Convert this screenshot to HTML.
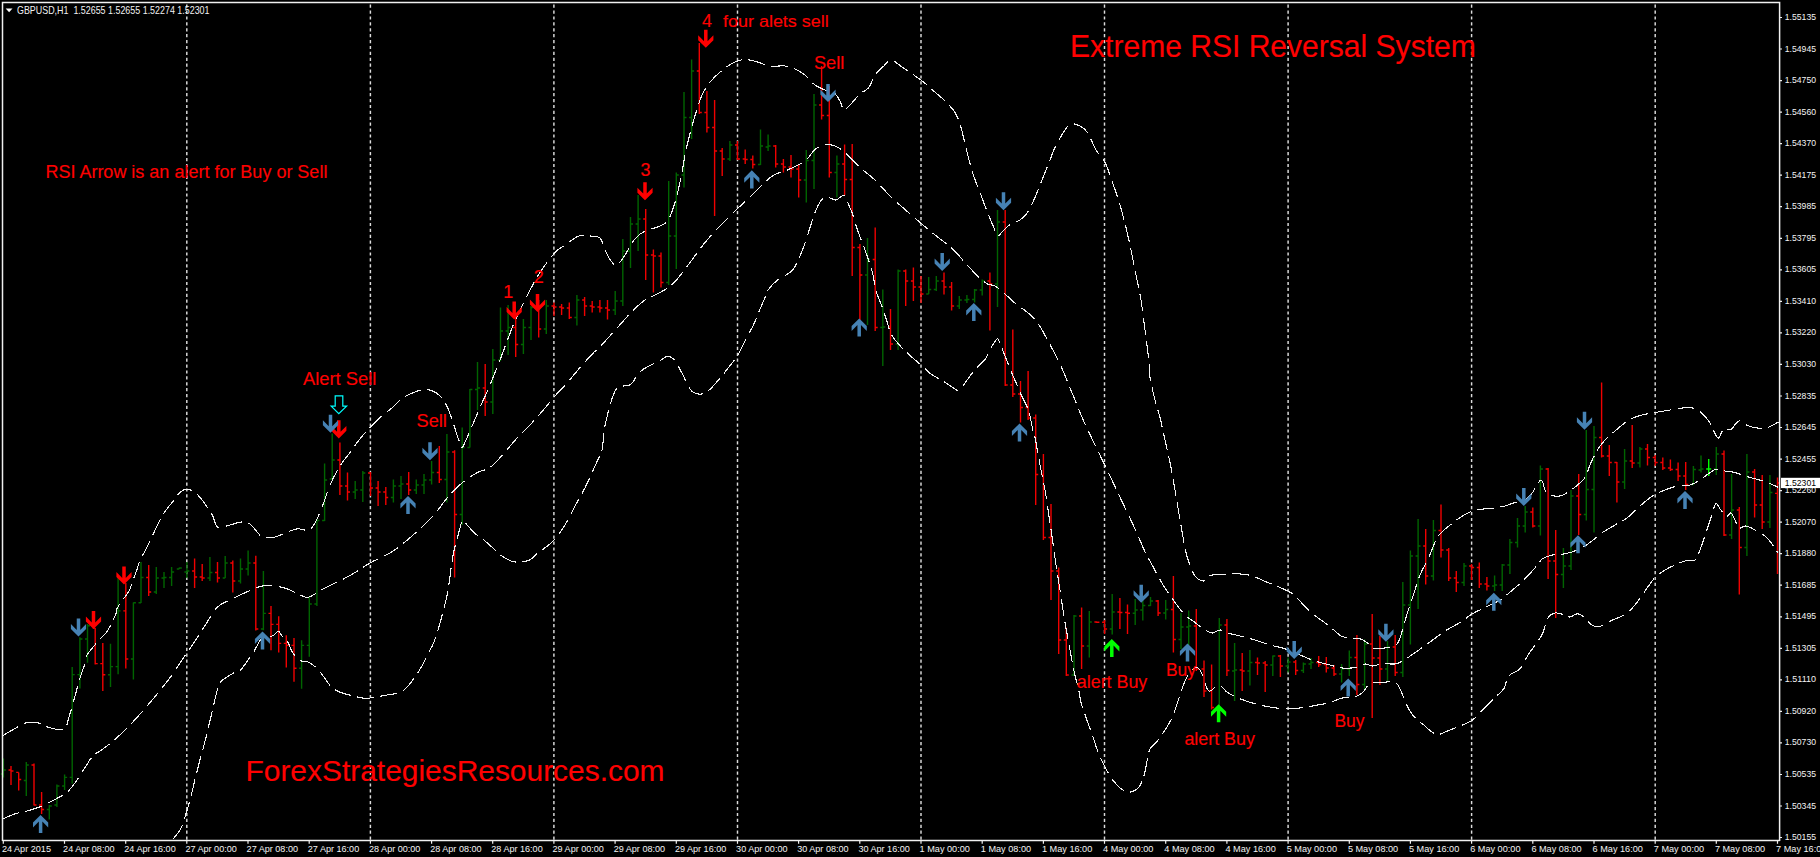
<!DOCTYPE html>
<html><head><meta charset="utf-8"><title>GBPUSD,H1</title>
<style>
html,body{margin:0;padding:0;background:#000;overflow:hidden}
svg{display:block;font-family:"Liberation Sans",sans-serif}
</style></head><body>
<svg width="1820" height="857" viewBox="0 0 1820 857">
<rect width="1820" height="857" fill="#000"/>
<g stroke="#dcdcdc" stroke-width="1.45" stroke-dasharray="3.2 2.7" stroke-dashoffset="4.3" fill="none">
<line x1="186.8" y1="3" x2="186.8" y2="840"/>
<line x1="370.4" y1="3" x2="370.4" y2="840"/>
<line x1="553.9" y1="3" x2="553.9" y2="840"/>
<line x1="737.5" y1="3" x2="737.5" y2="840"/>
<line x1="921.0" y1="3" x2="921.0" y2="840"/>
<line x1="1104.5" y1="3" x2="1104.5" y2="840"/>
<line x1="1288.1" y1="3" x2="1288.1" y2="840"/>
<line x1="1471.6" y1="3" x2="1471.6" y2="840"/>
<line x1="1655.2" y1="3" x2="1655.2" y2="840"/>
</g>
<g stroke-width="1.4" fill="none">
<path stroke="#006400" d="M3.4 758.6V777.4M0.9 774.0H3.4M3.4 770.0H5.9"/>
<path stroke="#f00000" d="M11.0 766.0V785.0M8.5 770.0H11.0M11.0 771.0H13.5"/>
<path stroke="#f00000" d="M18.7 772.4V790.5M16.2 772.4H18.7M18.7 779.5H21.2"/>
<path stroke="#006400" d="M26.3 762.0V796.0M23.8 780.5H26.3M26.3 765.0H28.8"/>
<path stroke="#f00000" d="M34.0 763.6V805.5M31.5 765.0H34.0M34.0 805.0H36.5"/>
<path stroke="#f00000" d="M41.6 792.0V814.0M39.1 805.0H41.6M41.6 809.5H44.1"/>
<path stroke="#006400" d="M49.3 805.0V819.6M46.8 809.5H49.3M49.3 806.0H51.8"/>
<path stroke="#006400" d="M56.9 784.5V807.0M54.4 805.0H56.9M56.9 786.0H59.4"/>
<path stroke="#006400" d="M64.6 774.4V790.0M62.1 786.0H64.6M64.6 777.4H67.1"/>
<path stroke="#006400" d="M72.2 667.0V783.7M69.7 777.4H72.2M72.2 674.6H74.7"/>
<path stroke="#006400" d="M79.9 637.2V688.4M77.4 674.6H79.9M79.9 639.0H82.4"/>
<path stroke="#006400" d="M87.5 624.0V662.8M85.0 639.0H87.5M87.5 625.7H90.0"/>
<path stroke="#f00000" d="M95.2 628.0V664.4M92.7 628.0H95.2M95.2 663.6H97.7"/>
<path stroke="#f00000" d="M102.8 643.0V691.0M100.3 663.6H102.8M102.8 674.8H105.3"/>
<path stroke="#006400" d="M110.5 643.8V687.0M108.0 674.8H110.5M110.5 666.6H113.0"/>
<path stroke="#006400" d="M118.1 577.0V674.3M115.6 666.6H118.1M118.1 610.9H120.6"/>
<path stroke="#f00000" d="M125.8 583.0V668.6M123.3 610.9H125.8M125.8 659.0H128.3"/>
<path stroke="#006400" d="M133.4 602.6V679.6M130.9 659.0H133.4M133.4 602.8H135.9"/>
<path stroke="#006400" d="M141.0 562.0V603.0M138.5 602.8H141.0M141.0 577.5H143.5"/>
<path stroke="#f00000" d="M148.7 565.0V596.0M146.2 577.5H148.7M148.7 592.0H151.2"/>
<path stroke="#006400" d="M156.3 567.0V594.0M153.8 592.0H156.3M156.3 578.0H158.8"/>
<path stroke="#006400" d="M164.0 572.0V588.0M161.5 578.0H164.0M164.0 577.5H166.5"/>
<path stroke="#006400" d="M171.6 567.0V586.0M169.1 577.5H171.6M171.6 572.0H174.1"/>
<path stroke="#006400" d="M179.3 567.5V569.0M176.8 569.0H179.3M179.3 568.0H181.8"/>
<path stroke="#006400" d="M186.9 562.0V578.0M184.4 572.0H186.9M186.9 571.0H189.4"/>
<path stroke="#f00000" d="M194.6 558.5V588.0M192.1 571.0H194.6M194.6 577.0H197.1"/>
<path stroke="#f00000" d="M202.2 564.0V581.0M199.7 577.0H202.2M202.2 578.0H204.7"/>
<path stroke="#006400" d="M209.9 557.0V581.0M207.4 578.0H209.9M209.9 572.5H212.4"/>
<path stroke="#f00000" d="M217.5 562.0V582.5M215.0 572.5H217.5M217.5 578.0H220.0"/>
<path stroke="#006400" d="M225.2 556.0V578.0M222.7 578.0H225.2M225.2 563.0H227.7"/>
<path stroke="#f00000" d="M232.8 560.5V592.5M230.3 563.0H232.8M232.8 581.0H235.3"/>
<path stroke="#006400" d="M240.5 558.5V583.5M238.0 581.0H240.5M240.5 569.0H243.0"/>
<path stroke="#006400" d="M248.1 550.5V575.5M245.6 569.0H248.1M248.1 563.0H250.6"/>
<path stroke="#f00000" d="M255.8 555.7V630.5M253.3 563.0H255.8M255.8 629.0H258.3"/>
<path stroke="#006400" d="M263.4 571.0V630.2M260.9 629.0H263.4M263.4 613.4H265.9"/>
<path stroke="#f00000" d="M271.0 606.0V650.3M268.5 613.4H271.0M271.0 624.4H273.5"/>
<path stroke="#f00000" d="M278.7 616.3V652.6M276.2 624.4H278.7M278.7 643.4H281.2"/>
<path stroke="#f00000" d="M286.3 635.2V667.6M283.8 643.4H286.3M286.3 645.4H288.8"/>
<path stroke="#f00000" d="M294.0 638.0V681.7M291.5 645.4H294.0M294.0 668.3H296.5"/>
<path stroke="#006400" d="M301.6 640.3V688.8M299.1 668.3H301.6M301.6 645.4H304.1"/>
<path stroke="#006400" d="M309.3 597.0V656.7M306.8 645.4H309.3M309.3 604.0H311.8"/>
<path stroke="#006400" d="M316.9 519.0V606.0M314.4 604.0H316.9M316.9 520.5H319.4"/>
<path stroke="#006400" d="M324.6 463.5V521.0M322.1 520.5H324.6M324.6 480.0H327.1"/>
<path stroke="#006400" d="M332.2 433.5V479.0M329.7 479.0H332.2M332.2 460.0H334.7"/>
<path stroke="#f00000" d="M339.9 442.5V495.0M337.4 460.0H339.9M339.9 486.0H342.4"/>
<path stroke="#f00000" d="M347.5 472.5V500.5M345.0 486.0H347.5M347.5 492.0H350.0"/>
<path stroke="#006400" d="M355.2 481.0V499.0M352.7 492.0H355.2M355.2 490.0H357.7"/>
<path stroke="#006400" d="M362.8 471.0V502.0M360.3 490.0H362.8M362.8 473.0H365.3"/>
<path stroke="#f00000" d="M370.5 472.0V496.0M368.0 473.0H370.5M370.5 488.0H373.0"/>
<path stroke="#f00000" d="M378.1 481.0V506.0M375.6 488.0H378.1M378.1 492.0H380.6"/>
<path stroke="#f00000" d="M385.8 487.0V505.0M383.2 492.0H385.8M385.8 497.5H388.2"/>
<path stroke="#006400" d="M393.4 479.5V502.5M390.9 497.5H393.4M393.4 486.0H395.9"/>
<path stroke="#006400" d="M401.0 476.0V499.0M398.5 486.0H401.0M401.0 484.0H403.5"/>
<path stroke="#f00000" d="M408.7 472.0V495.0M406.2 484.0H408.7M408.7 490.0H411.2"/>
<path stroke="#006400" d="M416.3 479.5V494.0M413.8 490.0H416.3M416.3 485.0H418.8"/>
<path stroke="#006400" d="M424.0 474.0V494.0M421.5 485.0H424.0M424.0 480.0H426.5"/>
<path stroke="#006400" d="M431.6 461.0V484.5M429.1 480.0H431.6M431.6 472.5H434.1"/>
<path stroke="#f00000" d="M439.3 446.0V483.0M436.8 472.5H439.3M439.3 479.5H441.8"/>
<path stroke="#006400" d="M446.9 434.0V502.5M444.4 479.5H446.9M446.9 452.0H449.4"/>
<path stroke="#f00000" d="M454.6 450.2V577.6M452.1 452.0H454.6M454.6 514.5H457.1"/>
<path stroke="#006400" d="M462.2 427.5V525.0M459.7 514.5H462.2M462.2 447.5H464.7"/>
<path stroke="#006400" d="M469.9 389.0V447.5M467.4 447.5H469.9M469.9 389.5H472.4"/>
<path stroke="#006400" d="M477.5 362.0V410.0M475.0 389.5H477.5M477.5 388.0H480.0"/>
<path stroke="#f00000" d="M485.2 364.0V416.0M482.7 388.0H485.2M485.2 402.0H487.7"/>
<path stroke="#006400" d="M492.8 349.0V414.0M490.3 402.0H492.8M492.8 360.0H495.3"/>
<path stroke="#006400" d="M500.5 307.5V361.0M498.0 360.0H500.5M500.5 331.0H503.0"/>
<path stroke="#006400" d="M508.1 305.0V355.0M505.6 331.0H508.1M508.1 327.5H510.6"/>
<path stroke="#f00000" d="M515.7 314.0V357.0M513.2 327.5H515.7M515.7 344.5H518.2"/>
<path stroke="#006400" d="M523.4 319.0V354.0M520.9 344.5H523.4M523.4 327.5H525.9"/>
<path stroke="#006400" d="M531.0 306.0V340.0M528.5 327.5H531.0M531.0 307.5H533.5"/>
<path stroke="#f00000" d="M538.7 300.0V337.5M536.2 307.5H538.7M538.7 329.0H541.2"/>
<path stroke="#006400" d="M546.3 300.0V334.0M543.8 329.0H546.3M546.3 306.0H548.8"/>
<path stroke="#f00000" d="M554.0 302.5V316.0M551.5 306.0H554.0M554.0 307.0H556.5"/>
<path stroke="#f00000" d="M561.6 304.0V315.0M559.1 307.0H561.6M561.6 308.0H564.1"/>
<path stroke="#f00000" d="M569.3 302.5V319.0M566.8 308.0H569.3M569.3 317.5H571.8"/>
<path stroke="#006400" d="M576.9 295.0V325.5M574.4 317.5H576.9M576.9 300.0H579.4"/>
<path stroke="#f00000" d="M584.6 297.0V316.0M582.1 300.0H584.6M584.6 306.0H587.1"/>
<path stroke="#f00000" d="M592.2 301.0V312.5M589.7 306.0H592.2M592.2 307.0H594.7"/>
<path stroke="#f00000" d="M599.9 300.0V312.5M597.4 307.0H599.9M599.9 308.0H602.4"/>
<path stroke="#f00000" d="M607.5 300.0V319.5M605.0 308.0H607.5M607.5 310.0H610.0"/>
<path stroke="#006400" d="M615.2 291.0V315.0M612.7 310.0H615.2M615.2 301.0H617.7"/>
<path stroke="#006400" d="M622.8 239.0V306.0M620.3 301.0H622.8M622.8 251.0H625.3"/>
<path stroke="#006400" d="M630.5 217.0V268.0M628.0 251.0H630.5M630.5 224.0H633.0"/>
<path stroke="#006400" d="M638.1 195.0V251.0M635.6 224.0H638.1M638.1 219.0H640.6"/>
<path stroke="#f00000" d="M645.7 209.0V280.0M643.2 219.0H645.7M645.7 255.0H648.2"/>
<path stroke="#f00000" d="M653.4 249.5V292.5M650.9 255.0H653.4M653.4 256.0H655.9"/>
<path stroke="#f00000" d="M661.0 252.5V287.5M658.5 256.0H661.0M661.0 282.5H663.5"/>
<path stroke="#006400" d="M668.7 181.0V285.0M666.2 282.5H668.7M668.7 236.0H671.2"/>
<path stroke="#006400" d="M676.3 172.5V269.0M673.8 236.0H676.3M676.3 175.0H678.8"/>
<path stroke="#006400" d="M684.0 92.0V187.5M681.5 175.0H684.0M684.0 117.5H686.5"/>
<path stroke="#006400" d="M691.6 59.5V139.0M689.1 117.5H691.6M691.6 71.0H694.1"/>
<path stroke="#f00000" d="M699.3 43.0V114.0M696.8 71.0H699.3M699.3 112.5H701.8"/>
<path stroke="#f00000" d="M706.9 91.0V132.5M704.4 112.5H706.9M706.9 127.5H709.4"/>
<path stroke="#f00000" d="M714.6 100.0V216.0M712.1 127.5H714.6M714.6 151.0H717.1"/>
<path stroke="#f00000" d="M722.2 148.0V176.0M719.7 151.0H722.2M722.2 159.0H724.7"/>
<path stroke="#006400" d="M729.9 141.0V161.0M727.4 159.0H729.9M729.9 145.0H732.4"/>
<path stroke="#f00000" d="M737.5 141.0V160.0M735.0 145.0H737.5M737.5 159.0H740.0"/>
<path stroke="#f00000" d="M745.2 149.5V164.0M742.7 159.0H745.2M745.2 159.5H747.7"/>
<path stroke="#f00000" d="M752.8 155.5V168.5M750.3 159.5H752.8M752.8 164.5H755.3"/>
<path stroke="#006400" d="M760.5 129.5V165.0M758.0 164.5H760.5M760.5 146.0H763.0"/>
<path stroke="#006400" d="M768.1 134.5V151.0M765.6 147.0H768.1M768.1 146.0H770.6"/>
<path stroke="#f00000" d="M775.7 145.0V167.5M773.2 146.0H775.7M775.7 164.0H778.2"/>
<path stroke="#f00000" d="M783.4 159.0V172.5M780.9 164.0H783.4M783.4 167.0H785.9"/>
<path stroke="#f00000" d="M791.0 155.0V177.5M788.5 167.0H791.0M791.0 169.0H793.5"/>
<path stroke="#f00000" d="M798.7 165.0V197.5M796.2 169.0H798.7M798.7 180.0H801.2"/>
<path stroke="#006400" d="M806.3 150.0V202.5M803.8 180.0H806.3M806.3 160.5H808.8"/>
<path stroke="#006400" d="M814.0 94.0V189.0M811.5 160.5H814.0M814.0 105.0H816.5"/>
<path stroke="#f00000" d="M821.6 66.0V119.5M819.1 105.0H821.6M821.6 115.5H824.1"/>
<path stroke="#f00000" d="M829.3 86.0V177.5M826.8 115.5H829.3M829.3 172.5H831.8"/>
<path stroke="#006400" d="M836.9 155.5V197.5M834.4 172.5H836.9M836.9 164.0H839.4"/>
<path stroke="#f00000" d="M844.6 144.5V195.0M842.1 164.0H844.6M844.6 179.5H847.1"/>
<path stroke="#f00000" d="M852.2 144.0V276.0M849.7 179.5H852.2M852.2 247.5H854.7"/>
<path stroke="#f00000" d="M859.9 244.0V322.5M857.4 247.5H859.9M859.9 275.0H862.4"/>
<path stroke="#006400" d="M867.5 238.0V325.0M865.0 275.0H867.5M867.5 259.5H870.0"/>
<path stroke="#f00000" d="M875.2 227.5V331.0M872.7 259.5H875.2M875.2 327.5H877.7"/>
<path stroke="#006400" d="M882.8 289.5V366.0M880.3 327.5H882.8M882.8 327.0H885.3"/>
<path stroke="#f00000" d="M890.5 309.0V350.0M888.0 327.0H890.5M890.5 344.0H893.0"/>
<path stroke="#006400" d="M898.1 269.5V350.0M895.6 344.0H898.1M898.1 271.0H900.6"/>
<path stroke="#f00000" d="M905.7 269.5V306.0M903.2 271.0H905.7M905.7 281.0H908.2"/>
<path stroke="#f00000" d="M913.4 267.5V301.0M910.9 281.0H913.4M913.4 287.0H915.9"/>
<path stroke="#f00000" d="M921.0 276.0V303.0M918.5 287.0H921.0M921.0 294.0H923.5"/>
<path stroke="#006400" d="M928.7 277.0V294.0M926.2 294.0H928.7M928.7 289.5H931.2"/>
<path stroke="#006400" d="M936.3 276.0V291.0M933.8 289.5H936.3M936.3 281.0H938.8"/>
<path stroke="#f00000" d="M944.0 272.5V294.5M941.5 281.0H944.0M944.0 287.0H946.5"/>
<path stroke="#f00000" d="M951.6 282.0V310.5M949.1 287.0H951.6M951.6 306.0H954.1"/>
<path stroke="#006400" d="M959.3 296.0V309.0M956.8 306.0H959.3M959.3 300.0H961.8"/>
<path stroke="#006400" d="M966.9 295.0V303.0M964.4 300.0H966.9M966.9 299.5H969.4"/>
<path stroke="#006400" d="M974.6 289.0V302.5M972.1 299.5H974.6M974.6 290.0H977.1"/>
<path stroke="#006400" d="M982.2 279.5V295.5M979.7 290.0H982.2M982.2 281.0H984.7"/>
<path stroke="#f00000" d="M989.9 272.5V330.5M987.4 281.0H989.9M989.9 284.0H992.4"/>
<path stroke="#006400" d="M997.5 210.0V307.0M995.0 284.0H997.5M997.5 222.0H1000.0"/>
<path stroke="#f00000" d="M1005.2 210.0V386.0M1002.7 222.0H1005.2M1005.2 385.0H1007.7"/>
<path stroke="#f00000" d="M1012.8 329.5V397.0M1010.3 385.0H1012.8M1012.8 394.0H1015.3"/>
<path stroke="#f00000" d="M1020.5 381.0V422.5M1018.0 394.0H1020.5M1020.5 407.5H1023.0"/>
<path stroke="#f00000" d="M1028.1 371.0V420.0M1025.6 407.5H1028.1M1028.1 418.0H1030.6"/>
<path stroke="#f00000" d="M1035.7 414.5V505.0M1033.2 418.0H1035.7M1035.7 474.5H1038.2"/>
<path stroke="#f00000" d="M1043.4 454.0V540.0M1040.9 474.5H1043.4M1043.4 537.5H1045.9"/>
<path stroke="#f00000" d="M1051.0 504.0V600.0M1048.5 537.5H1051.0M1051.0 571.0H1053.5"/>
<path stroke="#f00000" d="M1058.7 567.5V654.0M1056.2 571.0H1058.7M1058.7 640.0H1061.2"/>
<path stroke="#f00000" d="M1066.3 627.5V676.0M1063.8 640.0H1066.3M1066.3 675.0H1068.8"/>
<path stroke="#006400" d="M1074.0 615.0V676.0M1071.5 675.0H1074.0M1074.0 616.0H1076.5"/>
<path stroke="#f00000" d="M1081.6 607.5V669.0M1079.1 616.0H1081.6M1081.6 646.0H1084.1"/>
<path stroke="#006400" d="M1089.3 611.0V657.5M1086.8 646.0H1089.3M1089.3 622.0H1091.8"/>
<path stroke="#f00000" d="M1096.9 621.5V623.0M1094.4 622.0H1096.9M1096.9 622.3H1099.4"/>
<path stroke="#f00000" d="M1104.6 620.0V634.0M1102.1 622.3H1104.6M1104.6 629.0H1107.1"/>
<path stroke="#006400" d="M1112.2 594.0V634.5M1109.7 629.0H1112.2M1112.2 612.0H1114.7"/>
<path stroke="#f00000" d="M1119.9 598.0V629.0M1117.4 612.0H1119.9M1119.9 612.5H1122.4"/>
<path stroke="#f00000" d="M1127.5 604.5V634.0M1125.0 612.5H1127.5M1127.5 613.2H1130.0"/>
<path stroke="#006400" d="M1135.2 599.0V625.0M1132.7 613.2H1135.2M1135.2 610.0H1137.7"/>
<path stroke="#006400" d="M1142.8 600.0V620.5M1140.3 610.0H1142.8M1142.8 605.5H1145.3"/>
<path stroke="#006400" d="M1150.5 597.0V606.0M1148.0 605.5H1150.5M1150.5 601.0H1153.0"/>
<path stroke="#f00000" d="M1158.1 600.0V616.0M1155.6 601.0H1158.1M1158.1 613.0H1160.6"/>
<path stroke="#006400" d="M1165.7 600.0V619.5M1163.2 613.0H1165.7M1165.7 609.5H1168.2"/>
<path stroke="#f00000" d="M1173.4 576.0V652.5M1170.9 609.5H1173.4M1173.4 639.5H1175.9"/>
<path stroke="#006400" d="M1181.0 613.0V649.0M1178.5 639.5H1181.0M1181.0 627.0H1183.5"/>
<path stroke="#006400" d="M1188.7 610.5V645.0M1186.2 627.0H1188.7M1188.7 626.0H1191.2"/>
<path stroke="#f00000" d="M1196.3 609.0V671.0M1193.8 626.0H1196.3M1196.3 669.0H1198.8"/>
<path stroke="#f00000" d="M1204.0 660.5V697.0M1201.5 669.0H1204.0M1204.0 691.0H1206.5"/>
<path stroke="#f00000" d="M1211.6 664.5V709.5M1209.1 691.0H1211.6M1211.6 707.5H1214.1"/>
<path stroke="#006400" d="M1219.3 618.0V710.0M1216.8 707.5H1219.3M1219.3 625.0H1221.8"/>
<path stroke="#f00000" d="M1226.9 619.0V676.0M1224.4 625.0H1226.9M1226.9 670.5H1229.4"/>
<path stroke="#006400" d="M1234.6 643.0V701.0M1232.1 671.0H1234.6M1234.6 670.0H1237.1"/>
<path stroke="#f00000" d="M1242.2 653.0V691.0M1239.7 670.0H1242.2M1242.2 671.0H1244.7"/>
<path stroke="#006400" d="M1249.9 650.0V685.5M1247.4 671.0H1249.9M1249.9 662.5H1252.4"/>
<path stroke="#f00000" d="M1257.5 657.5V675.0M1255.0 662.5H1257.5M1257.5 663.0H1260.0"/>
<path stroke="#f00000" d="M1265.2 661.0V692.0M1262.7 663.0H1265.2M1265.2 665.0H1267.7"/>
<path stroke="#006400" d="M1272.8 655.5V676.0M1270.3 665.0H1272.8M1272.8 656.0H1275.3"/>
<path stroke="#f00000" d="M1280.4 655.0V677.0M1277.9 656.0H1280.4M1280.4 666.0H1282.9"/>
<path stroke="#006400" d="M1288.1 657.5V672.5M1285.6 666.0H1288.1M1288.1 662.0H1290.6"/>
<path stroke="#f00000" d="M1295.7 660.0V675.0M1293.2 662.0H1295.7M1295.7 670.5H1298.2"/>
<path stroke="#006400" d="M1303.4 662.5V673.0M1300.9 670.5H1303.4M1303.4 664.0H1305.9"/>
<path stroke="#006400" d="M1311.0 658.0V669.0M1308.5 664.0H1311.0M1311.0 662.5H1313.5"/>
<path stroke="#f00000" d="M1318.7 656.0V667.0M1316.2 662.5H1318.7M1318.7 664.5H1321.2"/>
<path stroke="#f00000" d="M1326.3 657.0V672.5M1323.8 664.5H1326.3M1326.3 668.0H1328.8"/>
<path stroke="#f00000" d="M1334.0 665.0V676.0M1331.5 668.0H1334.0M1334.0 674.0H1336.5"/>
<path stroke="#006400" d="M1341.6 664.0V682.5M1339.1 674.0H1341.6M1341.6 669.0H1344.1"/>
<path stroke="#006400" d="M1349.3 650.5V676.0M1346.8 669.0H1349.3M1349.3 657.5H1351.8"/>
<path stroke="#f00000" d="M1356.9 635.0V695.0M1354.4 657.5H1356.9M1356.9 684.5H1359.4"/>
<path stroke="#006400" d="M1364.6 639.5V690.0M1362.1 684.5H1364.6M1364.6 644.0H1367.1"/>
<path stroke="#f00000" d="M1372.2 614.0V718.0M1369.7 644.0H1372.2M1372.2 658.0H1374.7"/>
<path stroke="#f00000" d="M1379.9 636.0V685.0M1377.4 658.0H1379.9M1379.9 669.0H1382.4"/>
<path stroke="#006400" d="M1387.5 641.0V681.0M1385.0 669.0H1387.5M1387.5 647.0H1390.0"/>
<path stroke="#f00000" d="M1395.2 635.0V676.0M1392.7 647.0H1395.2M1395.2 672.5H1397.7"/>
<path stroke="#006400" d="M1402.8 582.0V677.0M1400.3 672.5H1402.8M1402.8 605.0H1405.3"/>
<path stroke="#006400" d="M1410.4 550.5V644.5M1407.9 605.0H1410.4M1410.4 556.0H1412.9"/>
<path stroke="#006400" d="M1418.1 519.0V609.0M1415.6 556.0H1418.1M1418.1 546.0H1420.6"/>
<path stroke="#f00000" d="M1425.7 529.0V584.5M1423.2 546.0H1425.7M1425.7 576.0H1428.2"/>
<path stroke="#006400" d="M1433.4 520.0V580.5M1430.9 576.0H1433.4M1433.4 530.5H1435.9"/>
<path stroke="#f00000" d="M1441.0 504.5V557.5M1438.5 530.5H1441.0M1441.0 550.0H1443.5"/>
<path stroke="#f00000" d="M1448.7 548.0V581.0M1446.2 550.0H1448.7M1448.7 578.0H1451.2"/>
<path stroke="#f00000" d="M1456.3 571.0V592.0M1453.8 578.0H1456.3M1456.3 582.5H1458.8"/>
<path stroke="#006400" d="M1464.0 563.0V586.0M1461.5 582.5H1464.0M1464.0 566.0H1466.5"/>
<path stroke="#f00000" d="M1471.6 564.0V580.0M1469.1 566.0H1471.6M1471.6 567.5H1474.1"/>
<path stroke="#f00000" d="M1479.3 562.5V588.0M1476.8 567.5H1479.3M1479.3 584.0H1481.8"/>
<path stroke="#f00000" d="M1486.9 577.0V590.5M1484.4 584.0H1486.9M1486.9 586.0H1489.4"/>
<path stroke="#006400" d="M1494.6 575.5V591.0M1492.1 586.0H1494.6M1494.6 585.0H1497.1"/>
<path stroke="#006400" d="M1502.2 564.0V591.0M1499.7 585.0H1502.2M1502.2 565.0H1504.7"/>
<path stroke="#006400" d="M1509.9 539.0V574.0M1507.4 565.0H1509.9M1509.9 542.5H1512.4"/>
<path stroke="#006400" d="M1517.5 518.0V547.5M1515.0 542.5H1517.5M1517.5 526.0H1520.0"/>
<path stroke="#006400" d="M1525.2 506.0V532.5M1522.7 526.0H1525.2M1525.2 512.0H1527.7"/>
<path stroke="#f00000" d="M1532.8 507.5V527.5M1530.3 512.0H1532.8M1532.8 526.0H1535.3"/>
<path stroke="#006400" d="M1540.4 465.5V535.5M1537.9 526.0H1540.4M1540.4 469.0H1542.9"/>
<path stroke="#f00000" d="M1548.1 468.0V579.0M1545.6 469.0H1548.1M1548.1 561.0H1550.6"/>
<path stroke="#f00000" d="M1555.7 530.0V618.0M1553.2 561.0H1555.7M1555.7 574.5H1558.2"/>
<path stroke="#006400" d="M1563.4 548.0V588.0M1560.9 574.5H1563.4M1563.4 566.0H1565.9"/>
<path stroke="#006400" d="M1571.0 490.0V570.0M1568.5 566.0H1571.0M1571.0 496.0H1573.5"/>
<path stroke="#f00000" d="M1578.7 474.0V535.0M1576.2 496.0H1578.7M1578.7 514.5H1581.2"/>
<path stroke="#006400" d="M1586.3 430.0V520.5M1583.8 514.5H1586.3M1586.3 489.5H1588.8"/>
<path stroke="#006400" d="M1594.0 426.0V532.5M1591.5 489.5H1594.0M1594.0 437.5H1596.5"/>
<path stroke="#f00000" d="M1601.6 382.5V457.5M1599.1 437.5H1601.6M1601.6 456.0H1604.1"/>
<path stroke="#f00000" d="M1609.3 445.0V476.0M1606.8 456.0H1609.3M1609.3 462.5H1611.8"/>
<path stroke="#f00000" d="M1616.9 462.0V502.5M1614.4 462.5H1616.9M1616.9 482.0H1619.4"/>
<path stroke="#006400" d="M1624.6 449.0V489.0M1622.1 482.0H1624.6M1624.6 461.0H1627.1"/>
<path stroke="#f00000" d="M1632.2 425.0V468.0M1629.7 461.0H1632.2M1632.2 463.0H1634.7"/>
<path stroke="#006400" d="M1639.9 447.0V467.5M1637.4 463.0H1639.9M1639.9 449.0H1642.4"/>
<path stroke="#f00000" d="M1647.5 444.0V465.5M1645.0 449.0H1647.5M1647.5 457.5H1650.0"/>
<path stroke="#f00000" d="M1655.2 455.0V466.0M1652.7 457.5H1655.2M1655.2 462.5H1657.7"/>
<path stroke="#f00000" d="M1662.8 457.5V470.0M1660.3 462.5H1662.8M1662.8 468.0H1665.3"/>
<path stroke="#f00000" d="M1670.4 459.5V471.0M1667.9 468.0H1670.4M1670.4 469.5H1672.9"/>
<path stroke="#f00000" d="M1678.1 462.5V481.0M1675.6 469.5H1678.1M1678.1 476.0H1680.6"/>
<path stroke="#f00000" d="M1685.7 462.0V490.0M1683.2 476.0H1685.7M1685.7 484.5H1688.2"/>
<path stroke="#006400" d="M1693.4 466.0V485.0M1690.9 484.5H1693.4M1693.4 469.5H1695.9"/>
<path stroke="#006400" d="M1701.0 455.5V472.5M1698.5 470.0H1701.0M1701.0 469.0H1703.5"/>
<path stroke="#00ff00" d="M1708.7 459.0V476.0M1706.2 469.0H1708.7M1708.7 469.0H1711.2"/>
<path stroke="#006400" d="M1716.3 447.0V475.0M1713.8 469.0H1716.3M1716.3 454.0H1718.8"/>
<path stroke="#f00000" d="M1724.0 450.5V536.0M1721.5 454.0H1724.0M1724.0 535.0H1726.5"/>
<path stroke="#006400" d="M1731.6 474.0V539.0M1729.1 535.0H1731.6M1731.6 510.0H1734.1"/>
<path stroke="#f00000" d="M1739.3 507.0V594.5M1736.8 510.0H1739.3M1739.3 547.5H1741.8"/>
<path stroke="#006400" d="M1746.9 454.0V556.0M1744.4 547.5H1746.9M1746.9 472.0H1749.4"/>
<path stroke="#f00000" d="M1754.6 469.0V517.5M1752.1 472.0H1754.6M1754.6 505.0H1757.1"/>
<path stroke="#f00000" d="M1762.2 475.0V529.0M1759.7 505.0H1762.2M1762.2 522.0H1764.7"/>
<path stroke="#006400" d="M1769.9 475.0V528.0M1767.4 522.0H1769.9M1769.9 492.5H1772.4"/>
<path stroke="#f00000" d="M1777.5 477.5V574.0M1775.0 493.4H1777.5M1777.5 483.0H1780.0"/>
</g>
<g stroke="#f4f4f4" stroke-width="1.1" fill="none" shape-rendering="crispEdges" stroke-dasharray="17.2 6.3" stroke-linecap="butt">
<path d="M3.3 735.3C5.2 734.2 11.2 730.6 15.0 728.5C18.8 726.4 22.2 723.8 26.0 722.8C29.8 721.8 33.6 722.0 37.6 722.8C41.6 723.6 45.6 726.7 50.0 727.8C54.4 728.9 60.8 731.1 64.0 729.3C67.2 727.5 67.2 722.5 69.0 717.0C70.8 711.5 73.1 702.7 75.0 696.0C76.9 689.3 78.5 682.8 80.4 676.8C82.3 670.8 85.0 664.1 86.2 660.3C87.4 656.4 85.2 657.6 87.8 653.7C90.4 649.9 98.5 641.0 101.8 637.2C105.1 633.4 105.3 634.5 107.6 630.7C109.9 626.9 114.1 618.1 115.8 614.2C117.5 610.4 115.3 611.5 117.5 607.6C119.7 603.7 126.7 594.9 129.0 591.0C131.3 587.1 130.1 588.2 131.5 584.5C132.9 580.8 135.8 572.6 137.2 568.8C138.6 564.9 137.9 565.4 139.7 561.4C141.5 557.4 144.2 552.6 148.0 545.0C151.8 537.4 158.0 523.2 162.5 515.5C167.0 507.8 172.1 502.8 175.0 499.0C177.9 495.2 178.0 494.2 180.0 492.5C182.0 490.8 184.5 489.0 187.0 489.0C189.5 489.0 192.4 490.6 195.0 492.5C197.6 494.4 199.6 496.7 202.5 500.5C205.4 504.3 210.0 511.1 212.5 515.5C215.0 519.9 214.6 525.4 217.5 527.0C220.4 528.6 226.1 525.8 230.0 525.0C233.9 524.2 237.7 522.2 241.0 522.0C244.3 521.8 247.2 522.2 250.0 524.0C252.8 525.8 255.4 530.4 257.5 532.5C259.6 534.6 259.6 535.8 262.5 536.5C265.4 537.2 270.8 537.8 275.0 537.0C279.2 536.2 283.8 533.4 287.5 532.0C291.2 530.6 294.0 529.1 297.5 528.8C301.0 528.4 305.7 531.3 308.8 530.0C311.8 528.7 313.5 525.6 316.0 521.0C318.5 516.4 321.4 508.5 323.8 502.5C326.1 496.5 327.3 491.1 330.0 485.0C332.7 478.9 336.7 471.4 340.0 466.0C343.3 460.6 346.7 457.0 350.0 452.5C353.3 448.0 356.7 442.9 360.0 438.8C363.3 434.6 366.7 431.0 370.0 427.5C373.3 424.0 376.2 420.8 380.0 417.5C383.8 414.2 388.8 410.8 392.5 407.5C396.2 404.2 398.8 400.6 402.5 398.0C406.2 395.4 411.5 393.4 415.0 392.0C418.5 390.6 420.8 389.7 423.8 389.5C426.7 389.3 429.8 389.9 432.5 391.0C435.2 392.1 437.5 393.2 440.0 396.0C442.5 398.8 445.2 402.7 447.5 407.5C449.8 412.3 451.9 419.6 453.8 425.0C455.6 430.4 457.4 436.2 458.8 440.0C460.1 443.8 460.8 447.5 462.0 447.5C463.2 447.5 464.2 443.8 466.0 440.0C467.8 436.2 470.2 430.4 472.5 425.0C474.8 419.6 477.1 414.2 480.0 407.5C482.9 400.8 486.7 392.9 490.0 385.0C493.3 377.1 497.1 367.5 500.0 360.0C502.9 352.5 505.0 346.5 507.5 340.0C510.0 333.5 511.7 328.5 515.0 321.0C518.3 313.5 523.3 303.1 527.5 295.0C531.7 286.9 535.4 279.6 540.0 272.5C544.6 265.4 550.8 257.1 555.0 252.5C559.2 247.9 561.0 247.8 565.0 245.0C569.0 242.2 574.6 237.5 578.8 236.0C582.9 234.5 586.5 235.7 590.0 236.0C593.5 236.3 597.5 235.7 600.0 238.0C602.5 240.3 603.2 246.2 605.0 250.0C606.8 253.8 609.0 258.5 611.0 261.0C613.0 263.5 614.7 266.0 617.0 265.0C619.3 264.0 622.0 259.4 625.0 255.0C628.0 250.6 631.7 242.8 635.0 238.8C638.3 234.8 641.2 233.0 645.0 231.0C648.8 229.0 653.8 228.7 657.5 227.0C661.2 225.3 664.6 225.1 667.5 221.0C670.4 216.9 672.8 209.8 675.0 202.5C677.2 195.2 679.2 186.2 681.0 177.5C682.8 168.8 684.3 157.9 686.0 150.0C687.7 142.1 689.3 136.2 691.0 130.0C692.7 123.8 694.1 118.5 696.0 112.5C697.9 106.5 700.0 99.2 702.5 94.0C705.0 88.8 707.7 85.0 711.0 81.0C714.3 77.0 718.7 73.1 722.5 70.0C726.3 66.9 730.0 64.2 733.8 62.5C737.5 60.8 741.0 59.6 745.0 59.5C749.0 59.4 753.3 60.9 757.5 62.0C761.7 63.1 765.4 65.3 770.0 66.0C774.6 66.7 780.8 65.5 785.0 66.0C789.2 66.5 791.7 67.5 795.0 69.0C798.3 70.5 801.7 72.3 805.0 75.0C808.3 77.7 811.7 82.5 815.0 85.0C818.3 87.5 821.9 88.8 825.0 90.0C828.1 91.2 831.2 90.7 833.8 92.5C836.2 94.3 838.3 98.1 840.0 101.0C841.7 103.9 842.1 109.3 843.8 110.0C845.4 110.7 847.3 107.7 850.0 105.0C852.7 102.3 856.9 96.9 860.0 94.0C863.1 91.1 866.2 90.7 868.8 87.5C871.2 84.3 872.5 78.6 875.0 75.0C877.5 71.4 881.1 68.5 883.8 66.0C886.4 63.5 888.3 60.1 891.0 60.0C893.7 59.9 896.8 63.4 900.0 65.5C903.2 67.6 906.5 70.1 910.0 72.5C913.5 74.9 917.2 77.1 921.0 80.0C924.8 82.9 928.5 86.5 932.5 90.0C936.5 93.5 941.2 97.2 945.0 101.0C948.8 104.8 952.3 108.1 955.0 112.5C957.7 116.9 959.2 121.6 961.0 127.5C962.8 133.4 964.1 140.5 966.0 148.0C967.9 155.5 970.2 165.1 972.5 172.5C974.8 179.9 977.5 185.8 980.0 192.5C982.5 199.2 985.2 206.7 987.5 212.5C989.8 218.3 992.1 223.6 993.8 227.5C995.4 231.4 995.8 235.6 997.5 236.0C999.2 236.4 1001.7 231.9 1003.8 230.0C1005.8 228.1 1007.3 226.2 1010.0 224.5C1012.7 222.8 1017.1 222.0 1020.0 220.0C1022.9 218.0 1025.0 216.2 1027.5 212.5C1030.0 208.8 1032.5 203.1 1035.0 197.5C1037.5 191.9 1040.0 185.0 1042.5 178.8C1045.0 172.5 1047.9 165.2 1050.0 160.0C1052.1 154.8 1052.5 152.5 1055.0 147.5C1057.5 142.5 1062.3 133.9 1065.0 130.0C1067.7 126.1 1068.5 124.7 1071.0 124.0C1073.5 123.3 1077.2 124.6 1080.0 126.0C1082.8 127.4 1084.8 128.5 1087.5 132.5C1090.2 136.5 1093.1 145.0 1096.0 150.0C1098.9 155.0 1102.2 157.1 1105.0 162.5C1107.8 167.9 1110.0 175.4 1112.5 182.5C1115.0 189.6 1117.8 197.5 1120.0 205.0C1122.2 212.5 1124.2 220.0 1126.0 227.5C1127.8 235.0 1129.3 242.1 1131.0 250.0C1132.7 257.9 1134.3 266.7 1136.0 275.0C1137.7 283.3 1139.5 290.8 1141.0 300.0C1142.5 309.2 1143.7 320.0 1145.0 330.0C1146.3 340.0 1147.9 352.1 1148.8 360.0C1149.6 367.9 1149.0 370.8 1150.0 377.5C1151.0 384.2 1153.3 393.3 1155.0 400.0C1156.7 406.7 1158.3 410.8 1160.0 417.5C1161.7 424.2 1163.3 432.5 1165.0 440.0C1166.7 447.5 1168.3 454.2 1170.0 462.5C1171.7 470.8 1173.3 480.4 1175.0 490.0C1176.7 499.6 1178.2 509.6 1180.0 520.0C1181.8 530.4 1184.3 545.0 1186.0 552.5C1187.7 560.0 1188.5 561.1 1190.0 565.0C1191.5 568.9 1192.7 573.3 1195.0 576.0C1197.3 578.7 1201.2 581.1 1203.8 581.0C1206.2 580.9 1206.9 576.6 1210.0 575.5C1213.1 574.4 1217.9 574.8 1222.5 574.5C1227.1 574.2 1232.5 573.5 1237.5 573.8C1242.5 574.0 1247.5 574.5 1252.5 576.0C1257.5 577.5 1262.9 580.6 1267.5 582.5C1272.1 584.4 1275.8 585.6 1280.0 587.5C1284.2 589.4 1288.8 591.0 1292.5 593.8C1296.2 596.5 1299.2 600.4 1302.5 603.8C1305.8 607.1 1309.2 610.9 1312.5 613.8C1315.8 616.6 1319.2 618.5 1322.5 621.0C1325.8 623.5 1329.4 626.2 1332.5 628.8C1335.6 631.2 1338.1 634.5 1341.0 636.0C1343.9 637.5 1346.8 637.5 1350.0 638.0C1353.2 638.5 1357.1 637.9 1360.0 638.8C1362.9 639.6 1365.4 641.5 1367.5 643.0C1369.6 644.5 1370.4 647.1 1372.5 648.0C1374.6 648.9 1377.1 648.7 1380.0 648.5C1382.9 648.3 1387.1 647.8 1390.0 647.0C1392.9 646.2 1395.4 646.3 1397.5 643.5C1399.6 640.7 1400.8 635.2 1402.5 630.0C1404.2 624.8 1405.6 618.5 1407.5 612.5C1409.4 606.5 1411.7 600.0 1413.8 593.8C1415.8 587.5 1417.5 581.0 1420.0 575.0C1422.5 569.0 1426.1 563.3 1428.8 557.5C1431.4 551.7 1434.1 543.9 1436.0 540.0C1437.9 536.1 1437.7 536.5 1440.0 534.0C1442.3 531.5 1446.2 528.0 1450.0 525.0C1453.8 522.0 1458.8 518.3 1462.5 516.0C1466.2 513.7 1468.8 512.2 1472.5 511.0C1476.2 509.8 1481.2 509.2 1485.0 508.8C1488.8 508.2 1491.7 508.5 1495.0 508.0C1498.3 507.5 1501.7 506.9 1505.0 506.0C1508.3 505.1 1511.7 503.5 1515.0 502.5C1518.3 501.5 1522.1 501.7 1525.0 500.0C1527.9 498.3 1529.8 495.8 1532.5 492.5C1535.2 489.2 1538.9 480.4 1541.0 480.0C1543.1 479.6 1543.5 487.5 1545.0 490.0C1546.5 492.5 1547.5 494.0 1550.0 495.0C1552.5 496.0 1557.1 496.4 1560.0 496.0C1562.9 495.6 1564.6 494.3 1567.5 492.5C1570.4 490.7 1574.6 487.5 1577.5 485.0C1580.4 482.5 1582.8 481.2 1585.0 477.5C1587.2 473.8 1588.9 467.1 1591.0 462.5C1593.1 457.9 1595.2 453.8 1597.5 450.0C1599.8 446.2 1602.1 443.2 1605.0 440.0C1607.9 436.8 1611.2 434.2 1615.0 431.0C1618.8 427.8 1623.3 423.6 1627.5 421.0C1631.7 418.4 1635.4 416.9 1640.0 415.5C1644.6 414.1 1650.0 413.4 1655.0 412.5C1660.0 411.6 1665.4 410.8 1670.0 410.0C1674.6 409.2 1678.8 408.3 1682.5 408.0C1686.2 407.7 1689.4 407.2 1692.5 408.0C1695.6 408.8 1698.3 410.3 1701.0 412.5C1703.7 414.7 1706.6 417.9 1708.8 421.0C1710.9 424.1 1712.1 428.2 1713.8 431.0C1715.4 433.8 1716.8 438.4 1718.5 438.0C1720.2 437.6 1721.7 430.2 1723.8 428.8C1725.8 427.3 1728.5 430.8 1731.0 429.5C1733.5 428.2 1736.0 421.7 1738.8 421.0C1741.5 420.3 1744.4 424.3 1747.5 425.5C1750.6 426.7 1754.2 427.7 1757.5 428.0C1760.8 428.3 1764.0 428.5 1767.5 427.5C1771.0 426.5 1776.7 422.9 1778.5 422.0"/>
<path d="M3.3 818.8C5.2 818.0 11.2 815.0 15.0 813.8C18.8 812.5 21.6 812.5 26.0 811.3C30.4 810.0 37.4 807.8 41.4 806.3C45.4 804.8 46.1 804.1 50.0 802.0C53.9 799.9 61.2 796.4 65.0 793.7C68.8 791.0 69.7 789.8 72.7 786.0C75.7 782.2 79.5 776.0 82.8 771.0C86.1 766.0 89.9 759.3 92.8 756.0C95.7 752.7 97.1 753.1 100.0 751.0C102.9 748.9 105.8 747.1 110.0 743.6C114.2 740.1 120.3 734.8 125.4 729.8C130.5 724.8 135.5 719.1 140.5 713.5C145.5 707.9 150.5 702.1 155.5 696.0C160.5 689.9 165.5 683.9 170.5 677.0C175.5 670.1 181.6 660.3 185.6 654.5C189.6 648.7 191.2 646.8 194.4 642.0C197.6 637.2 201.2 631.3 205.0 625.5C208.8 619.7 213.3 611.2 217.5 607.0C221.7 602.8 224.6 602.8 230.0 600.0C235.4 597.2 244.6 592.8 250.0 590.5C255.4 588.2 258.3 586.8 262.5 586.0C266.7 585.2 270.8 585.5 275.0 586.0C279.2 586.5 283.3 587.5 287.5 589.0C291.7 590.5 296.4 593.7 300.0 595.0C303.6 596.3 304.8 598.2 309.0 597.0C313.2 595.8 318.2 591.6 325.0 588.0C331.8 584.4 342.5 579.7 350.0 575.5C357.5 571.3 363.3 566.8 370.0 563.0C376.7 559.2 384.6 556.2 390.0 553.0C395.4 549.8 397.5 548.0 402.5 544.0C407.5 540.0 414.6 533.8 420.0 528.8C425.4 523.7 430.4 519.0 435.0 513.8C439.6 508.5 442.9 502.7 447.5 497.5C452.1 492.3 457.5 486.7 462.5 482.5C467.5 478.3 472.9 475.0 477.5 472.5C482.1 470.0 485.8 470.4 490.0 467.5C494.2 464.6 497.9 460.0 502.5 455.0C507.1 450.0 512.9 442.5 517.5 437.5C522.1 432.5 525.8 429.4 530.0 425.0C534.2 420.6 538.3 415.8 542.5 411.0C546.7 406.2 550.8 400.8 555.0 396.0C559.2 391.2 563.3 387.2 567.5 382.5C571.7 377.8 575.8 372.3 580.0 367.5C584.2 362.7 588.8 357.7 592.5 353.8C596.2 349.8 598.3 348.4 602.5 344.0C606.7 339.6 612.5 333.0 617.5 327.5C622.5 322.0 627.9 315.6 632.5 311.0C637.1 306.4 641.2 302.7 645.0 300.0C648.8 297.3 651.2 297.0 655.0 295.0C658.8 293.0 663.8 290.7 667.5 288.0C671.2 285.3 673.8 283.0 677.5 278.8C681.2 274.5 685.4 268.5 690.0 262.5C694.6 256.5 700.0 248.6 705.0 242.5C710.0 236.4 715.0 231.2 720.0 226.0C725.0 220.8 730.0 215.8 735.0 211.0C740.0 206.2 745.0 201.8 750.0 197.0C755.0 192.2 760.8 185.8 765.0 182.0C769.2 178.2 771.2 176.5 775.0 174.5C778.8 172.5 782.5 172.2 787.5 170.0C792.5 167.8 800.4 164.4 805.0 161.0C809.6 157.6 811.7 152.2 815.0 149.5C818.3 146.8 821.7 145.6 825.0 145.0C828.3 144.4 831.7 144.8 835.0 146.0C838.3 147.2 840.8 148.9 845.0 152.5C849.2 156.1 855.0 162.9 860.0 167.5C865.0 172.1 870.0 175.2 875.0 180.0C880.0 184.8 885.0 191.1 890.0 196.0C895.0 200.9 900.0 205.1 905.0 209.5C910.0 213.9 915.0 218.2 920.0 222.5C925.0 226.8 929.6 230.6 935.0 235.0C940.4 239.4 947.5 244.2 952.5 248.8C957.5 253.3 960.8 258.0 965.0 262.5C969.2 267.0 973.8 272.4 977.5 276.0C981.2 279.6 984.6 282.3 987.5 284.0C990.4 285.7 992.1 284.3 995.0 286.0C997.9 287.7 1001.5 291.0 1005.0 294.0C1008.5 297.0 1012.2 300.9 1016.0 304.0C1019.8 307.1 1023.9 309.4 1027.5 312.5C1031.1 315.6 1034.2 317.9 1037.5 322.5C1040.8 327.1 1043.8 333.1 1047.5 340.0C1051.2 346.9 1055.8 355.0 1060.0 364.0C1064.2 373.0 1068.3 384.0 1072.5 394.0C1076.7 404.0 1080.8 414.7 1085.0 424.0C1089.2 433.3 1093.3 441.3 1097.5 450.0C1101.7 458.7 1105.8 467.2 1110.0 476.0C1114.2 484.8 1118.3 493.7 1122.5 502.5C1126.7 511.3 1131.1 520.4 1135.0 529.0C1138.9 537.6 1143.5 548.7 1146.0 554.0C1148.5 559.3 1147.2 556.0 1150.0 561.0C1152.8 566.0 1158.3 577.1 1162.5 584.0C1166.7 590.9 1171.2 597.3 1175.0 602.5C1178.8 607.7 1181.7 611.7 1185.0 615.0C1188.3 618.3 1191.7 620.0 1195.0 622.5C1198.3 625.0 1202.1 628.2 1205.0 630.0C1207.9 631.8 1210.0 633.0 1212.5 633.0C1215.0 633.0 1217.5 630.0 1220.0 630.0C1222.5 630.0 1224.2 632.0 1227.5 633.0C1230.8 634.0 1235.4 634.8 1240.0 636.0C1244.6 637.2 1250.0 638.5 1255.0 640.0C1260.0 641.5 1265.0 643.5 1270.0 645.0C1275.0 646.5 1280.0 647.1 1285.0 648.8C1290.0 650.4 1295.0 653.0 1300.0 655.0C1305.0 657.0 1310.0 659.3 1315.0 661.0C1320.0 662.7 1325.4 663.8 1330.0 665.0C1334.6 666.2 1338.3 667.6 1342.5 668.0C1346.7 668.4 1351.2 668.2 1355.0 667.5C1358.8 666.8 1362.1 664.2 1365.0 664.0C1367.9 663.8 1369.6 666.0 1372.5 666.0C1375.4 666.0 1378.6 664.1 1382.5 663.8C1386.4 663.4 1392.1 664.6 1396.0 663.8C1399.9 662.9 1402.2 661.0 1406.0 658.8C1409.8 656.5 1414.8 652.8 1418.8 650.0C1422.8 647.2 1425.6 645.2 1430.0 642.0C1434.4 638.8 1440.0 634.2 1445.0 631.0C1450.0 627.8 1455.4 625.4 1460.0 622.5C1464.6 619.6 1468.3 616.2 1472.5 613.8C1476.7 611.2 1480.4 609.8 1485.0 607.5C1489.6 605.2 1495.4 602.9 1500.0 600.0C1504.6 597.1 1508.3 593.5 1512.5 590.0C1516.7 586.5 1520.8 582.9 1525.0 578.8C1529.2 574.6 1534.6 568.3 1537.5 565.0C1540.4 561.7 1540.0 560.4 1542.5 558.8C1545.0 557.1 1548.8 555.8 1552.5 555.0C1556.2 554.2 1560.8 554.6 1565.0 553.8C1569.2 552.9 1573.3 551.9 1577.5 550.0C1581.7 548.1 1585.8 545.4 1590.0 542.5C1594.2 539.6 1598.3 535.4 1602.5 532.5C1606.7 529.6 1610.8 527.5 1615.0 525.0C1619.2 522.5 1623.3 520.7 1627.5 517.5C1631.7 514.3 1635.8 509.6 1640.0 506.0C1644.2 502.4 1648.3 498.7 1652.5 496.0C1656.7 493.3 1660.8 491.7 1665.0 490.0C1669.2 488.3 1673.3 486.8 1677.5 486.0C1681.7 485.2 1686.2 486.0 1690.0 485.0C1693.8 484.0 1696.7 482.1 1700.0 480.0C1703.3 477.9 1707.3 474.2 1710.0 472.5C1712.7 470.8 1713.5 469.8 1716.0 469.5C1718.5 469.2 1721.8 470.5 1725.0 471.0C1728.2 471.5 1731.7 471.7 1735.0 472.5C1738.3 473.3 1741.2 474.8 1745.0 476.0C1748.8 477.2 1753.8 478.4 1757.5 479.5C1761.2 480.6 1764.0 481.2 1767.5 482.5C1771.0 483.8 1776.7 486.7 1778.5 487.5"/>
<path d="M173.0 839.0C174.3 837.3 178.5 833.0 180.6 829.0C182.7 825.0 183.9 820.2 185.6 815.0C187.3 809.8 188.5 805.4 190.6 797.5C192.7 789.6 195.5 777.2 198.0 767.4C200.5 757.6 203.4 747.8 205.7 738.6C208.0 729.4 210.1 719.9 212.0 712.0C213.9 704.1 215.6 696.0 217.0 691.0C218.4 686.0 219.4 684.1 220.7 682.0C222.0 679.9 222.8 680.0 225.0 678.5C227.2 677.0 231.4 674.2 234.0 672.8C236.6 671.4 237.3 673.4 240.4 670.2C243.5 667.0 249.9 657.4 252.6 653.5C255.3 649.6 255.0 649.4 256.4 647.0C257.8 644.6 259.2 641.1 261.0 639.4C262.8 637.7 265.0 637.6 267.0 637.0C269.0 636.4 271.1 636.6 273.0 635.6C274.9 634.6 276.7 631.1 278.3 631.3C279.9 631.5 281.0 634.8 282.7 636.8C284.4 638.8 287.1 641.1 288.5 643.3C289.9 645.4 289.8 647.5 291.0 649.7C292.2 651.9 293.8 654.8 295.6 656.7C297.4 658.6 300.3 660.5 302.0 661.2C303.7 662.0 304.1 660.7 305.8 661.2C307.5 661.7 309.9 662.6 312.3 664.4C314.7 666.2 317.9 669.6 320.0 672.0C322.1 674.4 323.3 676.2 325.0 678.5C326.7 680.8 328.3 683.6 330.2 685.6C332.1 687.6 334.0 689.3 336.6 690.7C339.2 692.1 342.8 693.1 345.6 694.0C348.4 694.9 350.1 695.2 353.3 695.9C356.5 696.6 361.1 698.2 364.9 698.4C368.7 698.6 372.0 697.6 376.0 697.0C380.0 696.4 384.6 695.5 388.8 694.7C393.0 693.9 397.6 694.1 401.3 692.0C405.1 689.9 408.0 686.2 411.3 682.0C414.6 677.8 418.4 672.0 421.4 667.0C424.3 662.0 426.9 656.2 429.0 652.0C431.1 647.8 432.2 646.8 434.0 642.0C435.8 637.2 437.8 631.2 440.0 623.0C442.2 614.8 445.3 604.3 447.5 593.0C449.7 581.7 451.2 565.0 453.0 555.4C454.8 545.8 456.8 540.5 458.0 535.6C459.2 530.7 459.8 528.5 460.5 526.0C461.2 523.5 461.5 521.5 462.0 520.8C462.5 520.0 462.8 521.0 463.5 521.5C464.2 522.0 464.5 522.1 466.3 524.0C468.1 525.9 471.8 530.5 474.5 533.0C477.2 535.5 479.9 536.8 482.7 539.0C485.4 541.2 487.9 543.6 491.0 546.3C494.1 549.0 497.7 552.9 501.0 555.4C504.3 557.9 508.1 559.9 510.8 561.0C513.5 562.1 514.4 562.1 517.4 562.0C520.4 561.9 525.7 561.7 529.0 560.3C532.3 558.9 533.2 556.7 537.0 553.7C540.8 550.7 548.1 545.8 552.0 542.2C555.9 538.6 557.5 536.2 560.2 532.3C563.0 528.4 566.0 523.4 568.5 519.0C571.0 514.6 572.8 510.1 575.0 506.0C577.2 501.9 579.4 498.5 581.6 494.4C583.8 490.3 586.0 485.9 588.2 481.2C590.4 476.5 592.9 470.6 594.8 466.4C596.7 462.1 598.5 458.8 599.8 455.7C601.1 452.6 601.8 451.6 602.5 447.5C603.2 443.4 603.3 435.8 604.0 431.0C604.7 426.2 605.6 422.9 606.6 418.6C607.6 414.3 608.8 409.2 609.9 405.4C611.0 401.5 612.1 398.2 613.2 395.5C614.3 392.8 614.7 390.5 616.5 388.9C618.3 387.3 621.4 386.7 623.9 385.9C626.4 385.1 629.0 386.0 631.3 384.0C633.6 382.0 635.8 376.5 637.9 374.0C640.0 371.5 641.5 370.5 643.7 369.0C645.9 367.5 648.4 366.4 651.0 365.0C653.6 363.6 656.5 362.3 659.3 360.9C662.1 359.4 665.3 356.6 667.6 356.3C669.9 356.0 671.6 357.4 673.3 358.9C674.9 360.3 676.0 362.5 677.5 365.0C679.0 367.5 680.8 370.8 682.4 374.0C684.0 377.2 685.9 381.2 687.4 384.0C688.9 386.8 689.9 389.3 691.5 390.9C693.1 392.5 695.2 393.4 697.2 393.8C699.2 394.2 701.6 394.3 703.8 393.5C706.0 392.7 707.9 391.2 710.4 388.9C712.9 386.6 716.2 382.7 718.7 379.8C721.2 376.9 723.1 374.4 725.3 371.6C727.5 368.9 730.0 365.8 731.9 363.3C733.8 360.8 735.1 359.4 736.8 356.8C738.4 354.2 739.9 351.4 741.8 347.7C743.7 344.0 746.4 338.2 748.3 334.5C750.2 330.8 751.5 329.2 753.3 325.4C755.1 321.5 757.1 315.9 759.0 311.4C760.9 306.9 763.3 301.8 764.8 298.2C766.3 294.6 766.0 293.0 768.1 290.0C770.2 287.0 773.4 283.3 777.5 280.0C781.6 276.7 788.3 275.0 792.5 270.0C796.7 265.0 799.6 257.1 802.5 250.0C805.4 242.9 807.8 234.2 810.0 227.5C812.2 220.8 813.9 214.8 816.0 210.0C818.1 205.2 820.2 200.8 822.5 198.8C824.8 196.8 827.8 197.8 830.0 198.0C832.2 198.2 833.7 200.4 836.0 200.0C838.3 199.6 841.6 194.7 843.8 195.5C845.9 196.3 847.3 201.9 848.8 205.0C850.2 208.1 851.0 209.8 852.5 214.0C854.0 218.2 855.4 224.0 857.5 230.0C859.6 236.0 862.5 242.9 865.0 250.0C867.5 257.1 870.7 265.8 872.5 272.5C874.3 279.2 874.2 284.6 875.7 290.0C877.2 295.4 879.6 299.9 881.4 304.8C883.2 309.8 884.8 314.8 886.4 319.7C888.0 324.6 889.1 330.2 891.3 334.5C893.5 338.8 896.9 342.0 899.6 345.2C902.4 348.4 904.2 350.2 907.8 353.5C911.4 356.8 917.1 361.6 921.0 365.0C924.9 368.4 927.3 371.4 930.9 374.0C934.5 376.6 938.8 378.5 942.4 380.7C946.0 382.9 949.5 385.6 952.3 387.2C955.0 388.8 956.7 391.3 958.9 390.5C961.1 389.7 963.3 385.2 965.5 382.3C967.7 379.4 969.9 375.9 972.1 373.2C974.3 370.4 976.5 368.1 978.7 365.8C980.9 363.5 983.4 361.9 985.3 359.2C987.2 356.4 988.7 352.1 990.2 349.3C991.7 346.6 993.1 344.5 994.3 342.7C995.5 340.9 996.5 338.1 997.6 338.6C998.7 339.2 999.7 343.1 1000.9 346.0C1002.1 348.9 1003.2 351.5 1005.0 355.9C1006.8 360.3 1009.7 367.7 1011.6 372.4C1013.5 377.1 1015.0 380.1 1016.6 384.0C1018.2 387.9 1019.9 391.9 1021.5 395.5C1023.1 399.1 1025.1 402.1 1026.5 405.4C1027.9 408.7 1028.7 411.0 1029.8 415.3C1030.9 419.6 1032.1 427.3 1033.0 431.0C1033.9 434.7 1033.8 431.8 1035.0 437.5C1036.2 443.2 1038.3 456.2 1040.0 465.0C1041.7 473.8 1043.5 481.7 1045.0 490.0C1046.5 498.3 1047.5 506.7 1048.8 515.0C1050.0 523.3 1051.3 531.7 1052.5 540.0C1053.7 548.3 1054.8 556.7 1056.0 565.0C1057.2 573.3 1058.5 580.4 1060.0 590.0C1061.5 599.6 1063.3 612.5 1065.0 622.5C1066.7 632.5 1068.5 642.1 1070.0 650.0C1071.5 657.9 1072.3 663.3 1073.8 670.0C1075.2 676.7 1077.5 684.5 1078.7 690.0C1079.9 695.5 1080.0 698.5 1081.2 703.2C1082.5 707.9 1084.3 712.5 1086.2 718.0C1088.1 723.5 1090.8 730.7 1092.7 736.2C1094.6 741.7 1095.8 746.1 1097.7 751.0C1099.6 755.9 1102.1 761.4 1104.3 765.8C1106.5 770.2 1108.7 774.1 1110.9 777.4C1113.1 780.7 1115.6 783.5 1117.5 785.6C1119.4 787.7 1120.6 788.6 1122.4 789.7C1124.2 790.8 1126.3 792.0 1128.2 792.2C1130.1 792.4 1132.2 791.7 1134.0 790.9C1135.8 790.1 1137.4 789.2 1138.9 787.2C1140.4 785.2 1141.9 782.0 1143.0 779.0C1144.1 776.0 1144.7 772.8 1145.5 769.0C1146.3 765.2 1147.2 759.4 1148.0 756.0C1148.8 752.6 1148.6 751.3 1150.4 748.5C1152.2 745.7 1156.2 742.5 1158.7 739.4C1161.2 736.2 1163.1 733.2 1165.3 729.6C1167.5 726.0 1170.0 722.1 1171.9 718.0C1173.8 713.9 1175.4 708.6 1176.8 704.8C1178.2 701.0 1178.7 699.0 1180.1 695.0C1181.5 691.0 1183.2 685.0 1185.0 681.0C1186.8 677.0 1188.9 673.2 1191.0 671.0C1193.1 668.8 1195.6 666.8 1197.5 667.5C1199.4 668.2 1200.6 671.1 1202.5 675.0C1204.4 678.9 1206.0 689.3 1208.8 691.0C1211.5 692.7 1215.6 684.8 1218.8 685.0C1221.9 685.2 1224.0 690.2 1227.5 692.5C1231.0 694.8 1235.4 696.9 1240.0 698.8C1244.6 700.6 1250.0 702.4 1255.0 703.8C1260.0 705.1 1265.0 706.2 1270.0 707.0C1275.0 707.8 1280.0 708.6 1285.0 708.8C1290.0 708.9 1295.0 708.5 1300.0 708.0C1305.0 707.5 1310.0 706.4 1315.0 705.5C1320.0 704.6 1325.4 703.8 1330.0 702.5C1334.6 701.2 1338.3 698.9 1342.5 698.0C1346.7 697.1 1351.7 697.9 1355.0 697.0C1358.3 696.1 1360.0 694.7 1362.5 692.5C1365.0 690.3 1367.1 685.4 1370.0 683.8C1372.9 682.1 1375.8 682.7 1380.0 682.5C1384.2 682.3 1391.5 681.1 1395.0 682.5C1398.5 683.9 1399.2 687.5 1401.0 691.0C1402.8 694.5 1404.3 700.2 1406.0 703.8C1407.7 707.3 1409.3 710.0 1411.0 712.5C1412.7 715.0 1413.9 716.7 1416.0 718.8C1418.1 720.8 1421.0 722.7 1423.8 725.0C1426.5 727.3 1430.0 730.9 1432.5 732.5C1435.0 734.1 1436.2 734.8 1438.8 734.5C1441.2 734.2 1444.0 732.4 1447.5 731.0C1451.0 729.6 1455.8 727.8 1460.0 726.0C1464.2 724.2 1468.3 723.1 1472.5 720.0C1476.7 716.9 1481.2 711.2 1485.0 707.5C1488.8 703.8 1491.9 700.6 1495.0 697.5C1498.1 694.4 1501.5 692.3 1503.8 688.8C1506.0 685.2 1506.0 679.3 1508.8 676.0C1511.5 672.7 1516.9 672.1 1520.0 668.8C1523.1 665.4 1525.0 660.0 1527.5 656.0C1530.0 652.0 1532.5 648.7 1535.0 645.0C1537.5 641.3 1540.4 638.1 1542.5 633.8C1544.6 629.4 1545.4 622.2 1547.5 618.8C1549.6 615.3 1552.1 613.6 1555.0 613.0C1557.9 612.4 1562.5 614.3 1565.0 615.0C1567.5 615.7 1567.9 617.2 1570.0 617.0C1572.1 616.8 1575.0 613.6 1577.5 613.8C1580.0 613.9 1582.5 616.0 1585.0 618.0C1587.5 620.0 1589.8 624.2 1592.5 625.5C1595.2 626.8 1597.7 626.9 1601.0 626.0C1604.3 625.1 1608.5 621.9 1612.5 620.0C1616.5 618.1 1621.2 617.0 1625.0 614.5C1628.8 612.0 1631.7 608.9 1635.0 605.0C1638.3 601.1 1641.7 595.6 1645.0 591.0C1648.3 586.4 1651.7 581.0 1655.0 577.5C1658.3 574.0 1661.7 572.1 1665.0 570.0C1668.3 567.9 1671.7 566.5 1675.0 565.0C1678.3 563.5 1681.7 561.8 1685.0 561.0C1688.3 560.2 1692.5 561.8 1695.0 560.0C1697.5 558.2 1698.2 554.6 1700.0 550.0C1701.8 545.4 1704.2 537.9 1706.0 532.5C1707.8 527.1 1709.4 522.3 1711.0 517.5C1712.6 512.7 1714.2 505.2 1715.8 503.8C1717.2 502.3 1718.6 507.0 1720.0 508.8C1721.4 510.5 1722.8 513.3 1724.0 514.5C1725.2 515.7 1726.3 516.2 1727.5 516.0C1728.7 515.8 1729.8 512.3 1731.0 513.0C1732.2 513.7 1733.7 517.5 1735.0 520.0C1736.3 522.5 1737.2 527.0 1739.0 528.0C1740.8 529.0 1743.3 525.7 1746.0 526.0C1748.7 526.3 1751.8 528.3 1755.0 530.0C1758.2 531.7 1762.3 533.9 1765.0 536.0C1767.7 538.1 1768.8 539.6 1771.0 542.5C1773.2 545.4 1777.2 551.7 1778.5 553.5"/>
</g>
<path transform="translate(40.6 824.0)" d="M-1.75 9.05H1.75V-2.4L7.6 3.45V-1.45L0 -9.05L-7.6 -1.45V3.45L-1.75 -2.4Z" fill="#4682b4"/>
<path transform="translate(78.5 627.5) scale(1 -1)" d="M-1.75 9.05H1.75V-2.4L7.6 3.45V-1.45L0 -9.05L-7.6 -1.45V3.45L-1.75 -2.4Z" fill="#4682b4"/>
<path transform="translate(93.5 620.0) scale(1 -1)" d="M-1.75 9.05H1.75V-2.4L7.6 3.45V-1.45L0 -9.05L-7.6 -1.45V3.45L-1.75 -2.4Z" fill="#ff0000"/>
<path transform="translate(124.0 575.5) scale(1 -1)" d="M-1.75 9.05H1.75V-2.4L7.6 3.45V-1.45L0 -9.05L-7.6 -1.45V3.45L-1.75 -2.4Z" fill="#ff0000"/>
<path transform="translate(262.5 640.5)" d="M-1.75 9.05H1.75V-2.4L7.6 3.45V-1.45L0 -9.05L-7.6 -1.45V3.45L-1.75 -2.4Z" fill="#4682b4"/>
<path transform="translate(338.8 429.4) scale(1 -1)" d="M-1.75 9.05H1.75V-2.4L7.6 3.45V-1.45L0 -9.05L-7.6 -1.45V3.45L-1.75 -2.4Z" fill="#ff0000"/>
<path transform="translate(330.5 423.8) scale(1 -1)" d="M-1.75 9.05H1.75V-2.4L7.6 3.45V-1.45L0 -9.05L-7.6 -1.45V3.45L-1.75 -2.4Z" fill="#4682b4"/>
<path transform="translate(430.0 451.2) scale(1 -1)" d="M-1.75 9.05H1.75V-2.4L7.6 3.45V-1.45L0 -9.05L-7.6 -1.45V3.45L-1.75 -2.4Z" fill="#4682b4"/>
<path transform="translate(408.0 505.0)" d="M-1.75 9.05H1.75V-2.4L7.6 3.45V-1.45L0 -9.05L-7.6 -1.45V3.45L-1.75 -2.4Z" fill="#4682b4"/>
<path transform="translate(514.2 310.5) scale(1 -1)" d="M-1.75 9.05H1.75V-2.4L7.6 3.45V-1.45L0 -9.05L-7.6 -1.45V3.45L-1.75 -2.4Z" fill="#ff0000"/>
<path transform="translate(537.5 303.0) scale(1 -1)" d="M-1.75 9.05H1.75V-2.4L7.6 3.45V-1.45L0 -9.05L-7.6 -1.45V3.45L-1.75 -2.4Z" fill="#ff0000"/>
<path transform="translate(645.0 191.2) scale(1 -1)" d="M-1.75 9.05H1.75V-2.4L7.6 3.45V-1.45L0 -9.05L-7.6 -1.45V3.45L-1.75 -2.4Z" fill="#ff0000"/>
<path transform="translate(705.8 38.8) scale(1 -1)" d="M-1.75 9.05H1.75V-2.4L7.6 3.45V-1.45L0 -9.05L-7.6 -1.45V3.45L-1.75 -2.4Z" fill="#ff0000"/>
<path transform="translate(751.8 179.4)" d="M-1.75 9.05H1.75V-2.4L7.6 3.45V-1.45L0 -9.05L-7.6 -1.45V3.45L-1.75 -2.4Z" fill="#4682b4"/>
<path transform="translate(828.0 93.0) scale(1 -1)" d="M-1.75 9.05H1.75V-2.4L7.6 3.45V-1.45L0 -9.05L-7.6 -1.45V3.45L-1.75 -2.4Z" fill="#4682b4"/>
<path transform="translate(859.2 327.5)" d="M-1.75 9.05H1.75V-2.4L7.6 3.45V-1.45L0 -9.05L-7.6 -1.45V3.45L-1.75 -2.4Z" fill="#4682b4"/>
<path transform="translate(942.2 262.0) scale(1 -1)" d="M-1.75 9.05H1.75V-2.4L7.6 3.45V-1.45L0 -9.05L-7.6 -1.45V3.45L-1.75 -2.4Z" fill="#4682b4"/>
<path transform="translate(973.8 312.0)" d="M-1.75 9.05H1.75V-2.4L7.6 3.45V-1.45L0 -9.05L-7.6 -1.45V3.45L-1.75 -2.4Z" fill="#4682b4"/>
<path transform="translate(1003.5 201.2) scale(1 -1)" d="M-1.75 9.05H1.75V-2.4L7.6 3.45V-1.45L0 -9.05L-7.6 -1.45V3.45L-1.75 -2.4Z" fill="#4682b4"/>
<path transform="translate(1019.5 432.5)" d="M-1.75 9.05H1.75V-2.4L7.6 3.45V-1.45L0 -9.05L-7.6 -1.45V3.45L-1.75 -2.4Z" fill="#4682b4"/>
<path transform="translate(1111.8 648.0)" d="M-1.75 9.05H1.75V-2.4L7.6 3.45V-1.45L0 -9.05L-7.6 -1.45V3.45L-1.75 -2.4Z" fill="#00ff00"/>
<path transform="translate(1141.2 593.8) scale(1 -1)" d="M-1.75 9.05H1.75V-2.4L7.6 3.45V-1.45L0 -9.05L-7.6 -1.45V3.45L-1.75 -2.4Z" fill="#4682b4"/>
<path transform="translate(1187.5 652.5)" d="M-1.75 9.05H1.75V-2.4L7.6 3.45V-1.45L0 -9.05L-7.6 -1.45V3.45L-1.75 -2.4Z" fill="#4682b4"/>
<path transform="translate(1218.6 713.2)" d="M-1.75 9.05H1.75V-2.4L7.6 3.45V-1.45L0 -9.05L-7.6 -1.45V3.45L-1.75 -2.4Z" fill="#00ff00"/>
<path transform="translate(1294.2 650.0) scale(1 -1)" d="M-1.75 9.05H1.75V-2.4L7.6 3.45V-1.45L0 -9.05L-7.6 -1.45V3.45L-1.75 -2.4Z" fill="#4682b4"/>
<path transform="translate(1348.2 687.5)" d="M-1.75 9.05H1.75V-2.4L7.6 3.45V-1.45L0 -9.05L-7.6 -1.45V3.45L-1.75 -2.4Z" fill="#4682b4"/>
<path transform="translate(1385.9 632.8) scale(1 -1)" d="M-1.75 9.05H1.75V-2.4L7.6 3.45V-1.45L0 -9.05L-7.6 -1.45V3.45L-1.75 -2.4Z" fill="#4682b4"/>
<path transform="translate(1493.8 601.8)" d="M-1.75 9.05H1.75V-2.4L7.6 3.45V-1.45L0 -9.05L-7.6 -1.45V3.45L-1.75 -2.4Z" fill="#4682b4"/>
<path transform="translate(1523.8 497.0) scale(1 -1)" d="M-1.75 9.05H1.75V-2.4L7.6 3.45V-1.45L0 -9.05L-7.6 -1.45V3.45L-1.75 -2.4Z" fill="#4682b4"/>
<path transform="translate(1578.0 544.2)" d="M-1.75 9.05H1.75V-2.4L7.6 3.45V-1.45L0 -9.05L-7.6 -1.45V3.45L-1.75 -2.4Z" fill="#4682b4"/>
<path transform="translate(1584.5 420.8) scale(1 -1)" d="M-1.75 9.05H1.75V-2.4L7.6 3.45V-1.45L0 -9.05L-7.6 -1.45V3.45L-1.75 -2.4Z" fill="#4682b4"/>
<path transform="translate(1685.0 500.0)" d="M-1.75 9.05H1.75V-2.4L7.6 3.45V-1.45L0 -9.05L-7.6 -1.45V3.45L-1.75 -2.4Z" fill="#4682b4"/>
<path d="M335.2 395.9 H342.8 V406.2 H346.6 L338.8 413.6 L331.2 406.2 H335.2 Z" fill="#000" stroke="#00ffff" stroke-width="1.2"/>
<text x="245.5" y="781.2" font-size="29.3" fill="#ff0000" stroke="#ff0000" stroke-width="0.15" textLength="419" lengthAdjust="spacingAndGlyphs">ForexStrategiesResources.com</text>
<text x="45.4" y="177.6" font-size="17.5" fill="#ff0000" stroke="#ff0000" stroke-width="0.15" textLength="282" lengthAdjust="spacingAndGlyphs">RSI Arrow is an alert for Buy or Sell</text>
<text x="1070" y="56.6" font-size="30.7" fill="#ff0000" stroke="#ff0000" stroke-width="0.15" textLength="405.75" lengthAdjust="spacingAndGlyphs">Extreme RSI Reversal System</text>
<text x="303" y="385" font-size="18.6" fill="#ff0000" stroke="#ff0000" stroke-width="0.15" textLength="73.3" lengthAdjust="spacingAndGlyphs">Alert Sell</text>
<text x="416.5" y="427" font-size="18.2" fill="#ff0000" stroke="#ff0000" stroke-width="0.15" textLength="30.4" lengthAdjust="spacingAndGlyphs">Sell</text>
<text x="813.9" y="69.4" font-size="18.2" fill="#ff0000" stroke="#ff0000" stroke-width="0.15" textLength="30.4" lengthAdjust="spacingAndGlyphs">Sell</text>
<text x="503.3" y="297.5" font-size="17.9" fill="#ff0000" stroke="#ff0000" stroke-width="0.15" >1</text>
<text x="533.7" y="282.5" font-size="17.9" fill="#ff0000" stroke="#ff0000" stroke-width="0.15" >2</text>
<text x="640.6" y="175.5" font-size="17.9" fill="#ff0000" stroke="#ff0000" stroke-width="0.15" >3</text>
<text x="702" y="27" font-size="17.9" fill="#ff0000" stroke="#ff0000" stroke-width="0.15" >4</text>
<text x="723" y="27" font-size="17.3" fill="#ff0000" stroke="#ff0000" stroke-width="0.15" textLength="105.75" lengthAdjust="spacingAndGlyphs">four alets sell</text>
<text x="1076.8" y="687.6" font-size="17.8" fill="#ff0000" stroke="#ff0000" stroke-width="0.15" textLength="70.5" lengthAdjust="spacingAndGlyphs">alert Buy</text>
<text x="1166" y="676.4" font-size="17.8" fill="#ff0000" stroke="#ff0000" stroke-width="0.15" textLength="30" lengthAdjust="spacingAndGlyphs">Buy</text>
<text x="1184.4" y="744.8" font-size="17.8" fill="#ff0000" stroke="#ff0000" stroke-width="0.15" textLength="70.5" lengthAdjust="spacingAndGlyphs">alert Buy</text>
<text x="1334.4" y="727" font-size="17.8" fill="#ff0000" stroke="#ff0000" stroke-width="0.15" textLength="30" lengthAdjust="spacingAndGlyphs">Buy</text>
<g stroke="#f0f0f0" stroke-width="1.5" fill="none">
<path d="M2.5 841 V2.6 H1779.6 V841"/>
<path d="M2.5 840.6 H1779.6"/>
</g>
<g stroke="#f0f0f0" stroke-width="1.2">
<line x1="1780" y1="17.5" x2="1782" y2="17.5"/>
<line x1="1780" y1="49.0" x2="1782" y2="49.0"/>
<line x1="1780" y1="80.6" x2="1782" y2="80.6"/>
<line x1="1780" y1="112.1" x2="1782" y2="112.1"/>
<line x1="1780" y1="143.7" x2="1782" y2="143.7"/>
<line x1="1780" y1="175.2" x2="1782" y2="175.2"/>
<line x1="1780" y1="206.7" x2="1782" y2="206.7"/>
<line x1="1780" y1="238.3" x2="1782" y2="238.3"/>
<line x1="1780" y1="269.8" x2="1782" y2="269.8"/>
<line x1="1780" y1="301.4" x2="1782" y2="301.4"/>
<line x1="1780" y1="332.9" x2="1782" y2="332.9"/>
<line x1="1780" y1="364.4" x2="1782" y2="364.4"/>
<line x1="1780" y1="396.0" x2="1782" y2="396.0"/>
<line x1="1780" y1="427.5" x2="1782" y2="427.5"/>
<line x1="1780" y1="459.1" x2="1782" y2="459.1"/>
<line x1="1780" y1="490.6" x2="1782" y2="490.6"/>
<line x1="1780" y1="522.1" x2="1782" y2="522.1"/>
<line x1="1780" y1="553.7" x2="1782" y2="553.7"/>
<line x1="1780" y1="585.2" x2="1782" y2="585.2"/>
<line x1="1780" y1="616.8" x2="1782" y2="616.8"/>
<line x1="1780" y1="648.3" x2="1782" y2="648.3"/>
<line x1="1780" y1="679.8" x2="1782" y2="679.8"/>
<line x1="1780" y1="711.4" x2="1782" y2="711.4"/>
<line x1="1780" y1="742.9" x2="1782" y2="742.9"/>
<line x1="1780" y1="774.5" x2="1782" y2="774.5"/>
<line x1="1780" y1="806.0" x2="1782" y2="806.0"/>
<line x1="1780" y1="837.5" x2="1782" y2="837.5"/>
<line x1="3.3" y1="841" x2="3.3" y2="843.8"/>
<line x1="64.5" y1="841" x2="64.5" y2="843.8"/>
<line x1="125.7" y1="841" x2="125.7" y2="843.8"/>
<line x1="186.8" y1="841" x2="186.8" y2="843.8"/>
<line x1="248.0" y1="841" x2="248.0" y2="843.8"/>
<line x1="309.2" y1="841" x2="309.2" y2="843.8"/>
<line x1="370.4" y1="841" x2="370.4" y2="843.8"/>
<line x1="431.6" y1="841" x2="431.6" y2="843.8"/>
<line x1="492.7" y1="841" x2="492.7" y2="843.8"/>
<line x1="553.9" y1="841" x2="553.9" y2="843.8"/>
<line x1="615.1" y1="841" x2="615.1" y2="843.8"/>
<line x1="676.3" y1="841" x2="676.3" y2="843.8"/>
<line x1="737.5" y1="841" x2="737.5" y2="843.8"/>
<line x1="798.6" y1="841" x2="798.6" y2="843.8"/>
<line x1="859.8" y1="841" x2="859.8" y2="843.8"/>
<line x1="921.0" y1="841" x2="921.0" y2="843.8"/>
<line x1="982.2" y1="841" x2="982.2" y2="843.8"/>
<line x1="1043.4" y1="841" x2="1043.4" y2="843.8"/>
<line x1="1104.5" y1="841" x2="1104.5" y2="843.8"/>
<line x1="1165.7" y1="841" x2="1165.7" y2="843.8"/>
<line x1="1226.9" y1="841" x2="1226.9" y2="843.8"/>
<line x1="1288.1" y1="841" x2="1288.1" y2="843.8"/>
<line x1="1349.3" y1="841" x2="1349.3" y2="843.8"/>
<line x1="1410.4" y1="841" x2="1410.4" y2="843.8"/>
<line x1="1471.6" y1="841" x2="1471.6" y2="843.8"/>
<line x1="1532.8" y1="841" x2="1532.8" y2="843.8"/>
<line x1="1594.0" y1="841" x2="1594.0" y2="843.8"/>
<line x1="1655.2" y1="841" x2="1655.2" y2="843.8"/>
<line x1="1716.3" y1="841" x2="1716.3" y2="843.8"/>
<line x1="1777.5" y1="841" x2="1777.5" y2="843.8"/>
</g>
<g font-size="9.7" fill="#f4f4f4">
<text x="1784.8" y="20.0" textLength="31.2" lengthAdjust="spacingAndGlyphs">1.55135</text>
<text x="1784.8" y="51.5" textLength="31.2" lengthAdjust="spacingAndGlyphs">1.54945</text>
<text x="1784.8" y="83.1" textLength="31.2" lengthAdjust="spacingAndGlyphs">1.54750</text>
<text x="1784.8" y="114.6" textLength="31.2" lengthAdjust="spacingAndGlyphs">1.54560</text>
<text x="1784.8" y="146.2" textLength="31.2" lengthAdjust="spacingAndGlyphs">1.54370</text>
<text x="1784.8" y="177.7" textLength="31.2" lengthAdjust="spacingAndGlyphs">1.54175</text>
<text x="1784.8" y="209.2" textLength="31.2" lengthAdjust="spacingAndGlyphs">1.53985</text>
<text x="1784.8" y="240.8" textLength="31.2" lengthAdjust="spacingAndGlyphs">1.53795</text>
<text x="1784.8" y="272.3" textLength="31.2" lengthAdjust="spacingAndGlyphs">1.53605</text>
<text x="1784.8" y="303.9" textLength="31.2" lengthAdjust="spacingAndGlyphs">1.53410</text>
<text x="1784.8" y="335.4" textLength="31.2" lengthAdjust="spacingAndGlyphs">1.53220</text>
<text x="1784.8" y="366.9" textLength="31.2" lengthAdjust="spacingAndGlyphs">1.53030</text>
<text x="1784.8" y="398.5" textLength="31.2" lengthAdjust="spacingAndGlyphs">1.52835</text>
<text x="1784.8" y="430.0" textLength="31.2" lengthAdjust="spacingAndGlyphs">1.52645</text>
<text x="1784.8" y="461.6" textLength="31.2" lengthAdjust="spacingAndGlyphs">1.52455</text>
<text x="1784.8" y="493.1" textLength="31.2" lengthAdjust="spacingAndGlyphs">1.52260</text>
<text x="1784.8" y="524.6" textLength="31.2" lengthAdjust="spacingAndGlyphs">1.52070</text>
<text x="1784.8" y="556.2" textLength="31.2" lengthAdjust="spacingAndGlyphs">1.51880</text>
<text x="1784.8" y="587.7" textLength="31.2" lengthAdjust="spacingAndGlyphs">1.51685</text>
<text x="1784.8" y="619.3" textLength="31.2" lengthAdjust="spacingAndGlyphs">1.51495</text>
<text x="1784.8" y="650.8" textLength="31.2" lengthAdjust="spacingAndGlyphs">1.51305</text>
<text x="1784.8" y="682.3" textLength="31.2" lengthAdjust="spacingAndGlyphs">1.51110</text>
<text x="1784.8" y="713.9" textLength="31.2" lengthAdjust="spacingAndGlyphs">1.50920</text>
<text x="1784.8" y="745.4" textLength="31.2" lengthAdjust="spacingAndGlyphs">1.50730</text>
<text x="1784.8" y="777.0" textLength="31.2" lengthAdjust="spacingAndGlyphs">1.50535</text>
<text x="1784.8" y="808.5" textLength="31.2" lengthAdjust="spacingAndGlyphs">1.50345</text>
<text x="1784.8" y="840.0" textLength="31.2" lengthAdjust="spacingAndGlyphs">1.50155</text>
<text x="1.9" y="852.1" textLength="49.1" lengthAdjust="spacingAndGlyphs">24 Apr 2015</text>
<text x="63.1" y="852.1" textLength="51.4" lengthAdjust="spacingAndGlyphs">24 Apr 08:00</text>
<text x="124.3" y="852.1" textLength="51.4" lengthAdjust="spacingAndGlyphs">24 Apr 16:00</text>
<text x="185.4" y="852.1" textLength="51.4" lengthAdjust="spacingAndGlyphs">27 Apr 00:00</text>
<text x="246.6" y="852.1" textLength="51.4" lengthAdjust="spacingAndGlyphs">27 Apr 08:00</text>
<text x="307.8" y="852.1" textLength="51.4" lengthAdjust="spacingAndGlyphs">27 Apr 16:00</text>
<text x="369.0" y="852.1" textLength="51.4" lengthAdjust="spacingAndGlyphs">28 Apr 00:00</text>
<text x="430.2" y="852.1" textLength="51.4" lengthAdjust="spacingAndGlyphs">28 Apr 08:00</text>
<text x="491.3" y="852.1" textLength="51.4" lengthAdjust="spacingAndGlyphs">28 Apr 16:00</text>
<text x="552.5" y="852.1" textLength="51.4" lengthAdjust="spacingAndGlyphs">29 Apr 00:00</text>
<text x="613.7" y="852.1" textLength="51.4" lengthAdjust="spacingAndGlyphs">29 Apr 08:00</text>
<text x="674.9" y="852.1" textLength="51.4" lengthAdjust="spacingAndGlyphs">29 Apr 16:00</text>
<text x="736.1" y="852.1" textLength="51.4" lengthAdjust="spacingAndGlyphs">30 Apr 00:00</text>
<text x="797.2" y="852.1" textLength="51.4" lengthAdjust="spacingAndGlyphs">30 Apr 08:00</text>
<text x="858.4" y="852.1" textLength="51.4" lengthAdjust="spacingAndGlyphs">30 Apr 16:00</text>
<text x="919.6" y="852.1" textLength="50.3" lengthAdjust="spacingAndGlyphs">1 May 00:00</text>
<text x="980.8" y="852.1" textLength="50.3" lengthAdjust="spacingAndGlyphs">1 May 08:00</text>
<text x="1042.0" y="852.1" textLength="50.3" lengthAdjust="spacingAndGlyphs">1 May 16:00</text>
<text x="1103.1" y="852.1" textLength="50.3" lengthAdjust="spacingAndGlyphs">4 May 00:00</text>
<text x="1164.3" y="852.1" textLength="50.3" lengthAdjust="spacingAndGlyphs">4 May 08:00</text>
<text x="1225.5" y="852.1" textLength="50.3" lengthAdjust="spacingAndGlyphs">4 May 16:00</text>
<text x="1286.7" y="852.1" textLength="50.3" lengthAdjust="spacingAndGlyphs">5 May 00:00</text>
<text x="1347.9" y="852.1" textLength="50.3" lengthAdjust="spacingAndGlyphs">5 May 08:00</text>
<text x="1409.0" y="852.1" textLength="50.3" lengthAdjust="spacingAndGlyphs">5 May 16:00</text>
<text x="1470.2" y="852.1" textLength="50.3" lengthAdjust="spacingAndGlyphs">6 May 00:00</text>
<text x="1531.4" y="852.1" textLength="50.3" lengthAdjust="spacingAndGlyphs">6 May 08:00</text>
<text x="1592.6" y="852.1" textLength="50.3" lengthAdjust="spacingAndGlyphs">6 May 16:00</text>
<text x="1653.8" y="852.1" textLength="50.3" lengthAdjust="spacingAndGlyphs">7 May 00:00</text>
<text x="1714.9" y="852.1" textLength="50.3" lengthAdjust="spacingAndGlyphs">7 May 08:00</text>
<text x="1776.1" y="852.1" textLength="50.3" lengthAdjust="spacingAndGlyphs">7 May 16:00</text>
</g>
<rect x="1781" y="477.8" width="39" height="10.3" fill="#fff"/>
<text x="1784.8" y="486.3" font-size="9.7" fill="#000" textLength="31.2" lengthAdjust="spacingAndGlyphs">1.52301</text>
<path d="M5.7 8.6 L12.5 8.6 L9.1 12.3 Z" fill="#fff"/>
<text x="17" y="13.6" font-size="10.5" fill="#f2f2f2" textLength="192.5" lengthAdjust="spacingAndGlyphs" xml:space="preserve">GBPUSD,H1  1.52655 1.52655 1.52274 1.52301</text>
</svg>
</body></html>
